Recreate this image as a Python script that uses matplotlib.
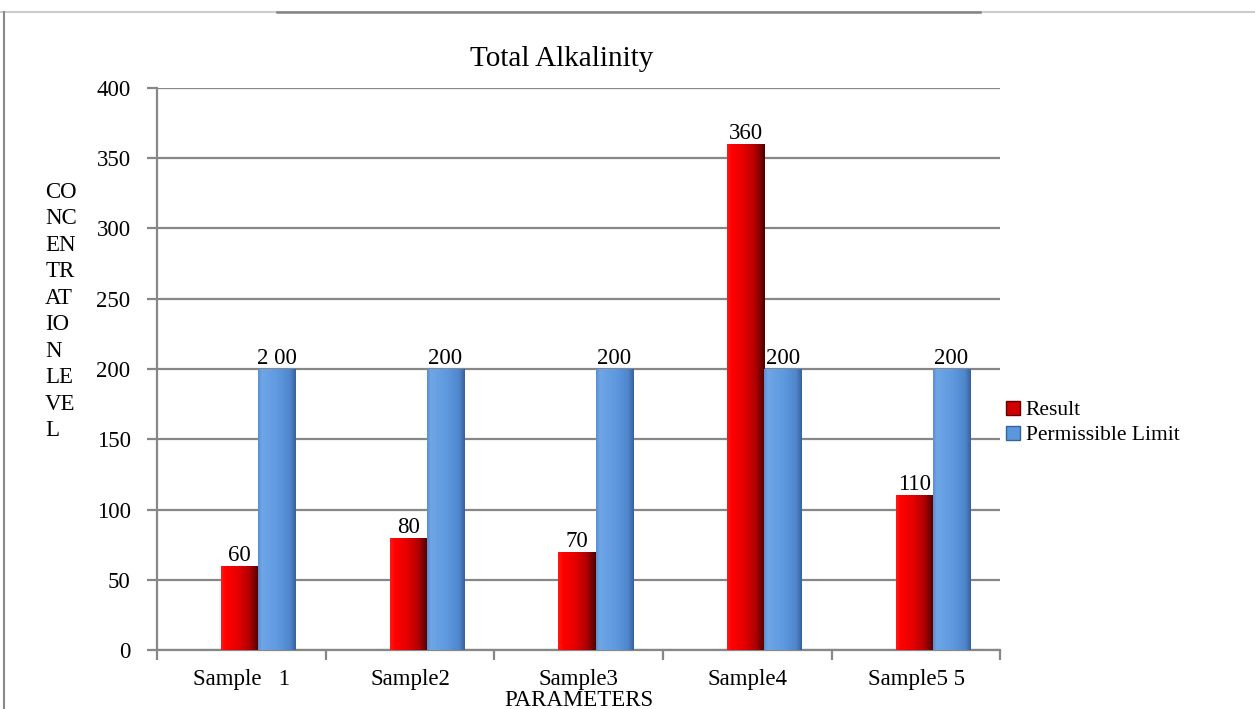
import numpy as np
import matplotlib
matplotlib.use("Agg")
import matplotlib.pyplot as plt
from matplotlib.lines import Line2D
from matplotlib.colors import LinearSegmentedColormap

plt.rcParams['font.family'] = ['Liberation Serif', 'DejaVu Serif']

categories = ["Sample   1", "Sample2", "Sample3", "Sample4", "Sample5 5"]
result = [60, 80, 70, 360, 110]
limit = [200, 200, 200, 200, 200]
result_labels = ["60", "80", "70", "360", "110"]
limit_labels = ["2 00", "200", "200", "200", "200"]
yticks = [0, 50, 100, 150, 200, 250, 300, 350, 400]

fig = plt.figure(figsize=(12.55, 7.09), dpi=100)
ax = fig.add_axes([0.1251, 0.0832, 0.672, 0.7927])

grid_c = "#878787"
x = np.arange(len(categories))
w = 0.22
off = 0.1
fs = 16.5

red_cmap = LinearSegmentedColormap.from_list(
    "red", [(0, "#ff1a1a"), (0.12, "#ff0000"), (0.45, "#e60000"),
            (0.75, "#b00000"), (1.0, "#4a0000")])
blue_cmap = LinearSegmentedColormap.from_list(
    "blue", [(0, "#5a8fd0"), (0.1, "#6ea6e6"), (0.5, "#5f9ae0"),
             (0.85, "#4f86cc"), (1.0, "#36619a")])

bars_r = ax.bar(x + off - w / 2, result, w, color="#e00000", zorder=3)
bars_b = ax.bar(x + off + w / 2, limit, w, color="#5b97dc", zorder=3)

grad = np.linspace(0, 1, 256).reshape(1, -1)
for bars, cmap in ((bars_r, red_cmap), (bars_b, blue_cmap)):
    for p in bars:
        x0, y0 = p.get_x(), p.get_y()
        im = ax.imshow(grad, cmap=cmap, aspect="auto", zorder=4,
                       extent=(x0, x0 + p.get_width(), y0, y0 + p.get_height()),
                       interpolation="bicubic")
        im.set_clip_path(p)

for xi, v, t in zip(x + off - w / 2, result, result_labels):
    ax.text(xi, v, t, ha="center", va="bottom", fontsize=fs, zorder=5)
for xi, v, t in zip(x + off + w / 2, limit, limit_labels):
    ax.text(xi, v, t, ha="center", va="bottom", fontsize=fs, zorder=5)

ax.set_xlim(-0.5, len(categories) - 0.5)
ax.set_ylim(0, 400)
ax.set_yticks(yticks)
ax.set_yticklabels([str(t) for t in yticks], fontsize=fs)
ax.yaxis.grid(True, color=grid_c, linewidth=1.6, zorder=0)
ax.set_axisbelow(True)

ax.set_xticks(x)
ax.set_xticklabels(categories, fontsize=fs)
ax.tick_params(axis="x", length=0, pad=14)
ax.set_xticks(np.arange(-0.5, len(categories)), minor=True)
ax.tick_params(axis="x", which="minor", length=7, width=1.6, color=grid_c)
ax.tick_params(axis="y", length=7, width=1.6, color=grid_c, pad=12)

for s in ("top", "right"):
    ax.spines[s].set_visible(False)
for s in ("left", "bottom"):
    ax.spines[s].set_color(grid_c)
    ax.spines[s].set_linewidth(1.6)

ax.set_title("Total Alkalinity", fontsize=21, pad=16, x=0.48)
ax.set_xlabel("PARAMETERS", fontsize=fs, labelpad=0)
fig.text(0.036, 0.378, "CO\nNC\nEN\nTR\nAT\nIO\nN\nLE\nVE\nL", fontsize=fs,
         ha="left", va="bottom", linespacing=1.34)

handles = [Line2D([], [], marker="s", linestyle="none", markersize=10,
                  markerfacecolor="#d00000", markeredgecolor="#600000"),
           Line2D([], [], marker="s", linestyle="none", markersize=10,
                  markerfacecolor="#5b97dc", markeredgecolor="#36619a")]
fig.legend(handles, ["Result", "Permissible Limit"], loc="upper left",
           bbox_to_anchor=(0.79, 0.448), frameon=False, fontsize=15.5,
           handletextpad=0.0, labelspacing=0.25, handlelength=1.2,
           borderaxespad=0.0)

# frame lines around the chart area
fig.add_artist(Line2D([0.0, 1.0], [0.983, 0.983], color="#cccccc", linewidth=1.5))
fig.add_artist(Line2D([0.221, 0.781], [0.983, 0.983], color="#858585", linewidth=1.8))
fig.add_artist(Line2D([0.0035, 0.0035], [0.0, 0.983], color="#8a8a8a", linewidth=1.5))

fig.savefig("out.png", dpi=100)
